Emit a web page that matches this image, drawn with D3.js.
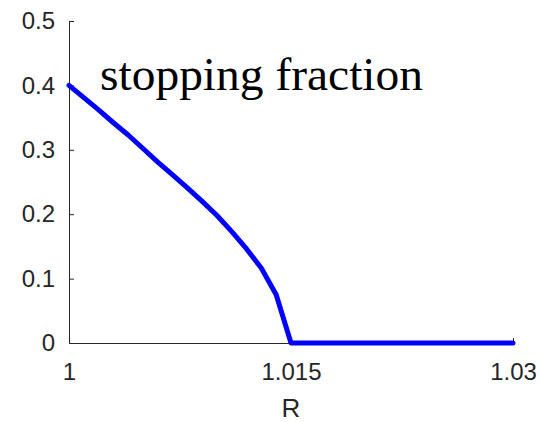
<!DOCTYPE html>
<html>
<head>
<meta charset="utf-8">
<script src="https://cdn.jsdelivr.net/npm/d3@7"></script>
<style>
  html, body { margin: 0; padding: 0; background: #fff; }
  svg { display: block; }
</style>
</head>
<body>
<div id="chart"></div>
<script>
// R values and stopping fraction
const rValues = [1.000, 1.001, 1.002, 1.003, 1.004, 1.005, 1.006, 1.007, 1.008, 1.009,
                 1.010, 1.011, 1.012, 1.013, 1.014, 1.015, 1.020, 1.025, 1.030];
const fraction = [0.400, 0.381, 0.362, 0.342, 0.323, 0.302, 0.281, 0.261, 0.241, 0.220,
                  0.198, 0.173, 0.146, 0.116, 0.075, 0.000, 0.000, 0.000, 0.000];
const xTicks = [1, 1.015, 1.03];
const xTickLabels = ["1", "1.015", "1.03"];
const yTicks = [0, 0.1, 0.2, 0.3, 0.4, 0.5];
const yTickLabels = ["0", "0.1", "0.2", "0.3", "0.4", "0.5"];

const W = 540, H = 422;
const margin = { top: 21, right: 27, bottom: 79, left: 69 };

const svg = d3.select("#chart")
  .append("svg")
  .attr("width", W)
  .attr("height", H);

const x = d3.scaleLinear()
  .domain([1, 1.03])
  .range([margin.left, W - margin.right]);

const y = d3.scaleLinear()
  .domain([0, 0.5])
  .range([H - margin.bottom, margin.top]);

const axisColor = "#262626";

const xAxis = d3.axisBottom(x)
  .tickValues(xTicks)
  .tickFormat((d, i) => xTickLabels[i])
  .tickSizeInner(-5)
  .tickSizeOuter(0)
  .tickPadding(20);

const yAxis = d3.axisLeft(y)
  .tickValues(yTicks)
  .tickFormat((d, i) => yTickLabels[i])
  .tickSizeInner(-5)
  .tickSizeOuter(0)
  .tickPadding(14);

const gx = svg.append("g")
  .attr("transform", `translate(0,${H - margin.bottom})`)
  .call(xAxis);

const gy = svg.append("g")
  .attr("transform", `translate(${margin.left},0)`)
  .call(yAxis);

[gx, gy].forEach(g => {
  g.selectAll("path, line").attr("stroke", axisColor).attr("stroke-width", 1);
  g.selectAll("text")
    .attr("fill", axisColor)
    .style("font-family", "'Liberation Sans', Arial, sans-serif")
    .style("font-size", "24px");
});

svg.append("text")
  .attr("x", (x(1) + x(1.03)) / 2)
  .attr("y", 417)
  .attr("text-anchor", "middle")
  .attr("fill", axisColor)
  .style("font-family", "'Liberation Sans', Arial, sans-serif")
  .style("font-size", "26px")
  .text("R");

const line = d3.line()
  .x((d, i) => x(rValues[i]))
  .y(d => y(d));

svg.append("path")
  .datum(fraction)
  .attr("fill", "none")
  .attr("stroke", "#0000ff")
  .attr("stroke-width", 5)
  .attr("stroke-linejoin", "round")
  .attr("stroke-linecap", "round")
  .attr("d", line);

// annotation, scaled to the width it has in the picture
const label = svg.append("text")
  .attr("x", 100)
  .attr("y", 90)
  .style("font-family", "'Liberation Serif', 'Times New Roman', serif")
  .style("font-size", "40px")
  .attr("fill", "#000")
  .text("stopping fraction");

const w = label.node().getComputedTextLength();
label.style("font-size", (40 * 323 / w) + "px");
</script>
</body>
</html>
